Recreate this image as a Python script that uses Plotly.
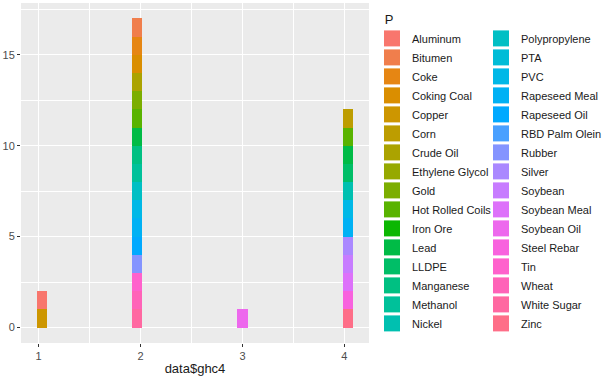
import math
import plotly.graph_objects as go

# ---------------- data ----------------
categories = ["Aluminum", "Bitumen", "Coke", "Coking Coal", "Copper", "Corn", "Crude Oil",
              "Ethylene Glycol", "Gold", "Hot Rolled Coils", "Iron Ore", "Lead", "LLDPE",
              "Manganese", "Methanol", "Nickel", "Polypropylene", "PTA", "PVC", "Rapeseed Meal",
              "Rapeseed Oil", "RBD Palm Olein", "Rubber", "Silver", "Soybean", "Soybean Meal",
              "Soybean Oil", "Steel Rebar", "Tin", "Wheat", "White Sugar", "Zinc"]

# observations: P category at each data$ghc4 value
ghc4_1 = ["Aluminum", "Copper"]
ghc4_2 = ["Bitumen", "Coke", "Coking Coal", "Crude Oil", "Gold", "Hot Rolled Coils", "Lead",
          "Manganese", "Methanol", "Polypropylene", "PVC", "Rapeseed Meal", "Rapeseed Oil",
          "Rubber", "Tin", "Wheat", "White Sugar"]
ghc4_3 = ["Soybean Oil"]
ghc4_4 = ["Corn", "Hot Rolled Coils", "Lead", "LLDPE", "Nickel", "PVC", "Rapeseed Meal",
          "Silver", "Soybean", "Soybean Meal", "Steel Rebar", "Zinc"]
ghc4_values = [1, 2, 3, 4]
x_ticks = [1, 2, 3, 4]
y_ticks = [0, 5, 10, 15]

groups = dict(zip(ghc4_values, [ghc4_1, ghc4_2, ghc4_3, ghc4_4]))

# ---------------- ggplot hue palette ----------------
def hcl_hex(h, c=100.0, l=65.0):
    hr = math.radians(h)
    U = c * math.cos(hr)
    V = c * math.sin(hr)
    Y = 100.0 * ((l + 16) / 116) ** 3
    un, vn = 0.1978398, 0.4683363
    u = U / (13 * l) + un
    v = V / (13 * l) + vn
    X = 9.0 * Y * u / (4 * v)
    Z = -X / 3 - 5 * Y + 3 * Y / v
    X, Y, Z = X / 100, Y / 100, Z / 100
    rgb = [3.240479 * X - 1.537150 * Y - 0.498535 * Z,
           -0.969256 * X + 1.875992 * Y + 0.041556 * Z,
           0.055648 * X - 0.204043 * Y + 1.057311 * Z]
    out = []
    for t in rgb:
        t = 1.055 * t ** (1 / 2.4) - 0.055 if t > 0.00304 else 12.92 * t
        t = min(max(t, 0), 1)
        out.append(round(t * 255))
    return "#%02X%02X%02X" % tuple(out)

n = len(categories)
colors = [hcl_hex(15 + 360 * i / n) for i in range(n)]
color_of = dict(zip(categories, colors))

# ggplot default binning (30 bins)
xmin, xmax = min(ghc4_values), max(ghc4_values)
width = (xmax - xmin) / 29
boundary = width / 2
shift = math.floor((xmin - boundary) / width)
origin = boundary + shift * width
end = origin + 30 * width

fig = go.Figure()
# stacked: first level on top -> add in reverse
for cat in reversed(categories):
    xs = [v for v in ghc4_values for c in groups[v] if c == cat]
    if not xs:
        continue
    fig.add_trace(go.Histogram(
        x=xs, xbins=dict(start=origin, end=end, size=width), autobinx=False,
        marker=dict(color=color_of[cat], line=dict(width=0)),
        showlegend=False, legendgroup=cat, name=cat))

# legend entries (two columns)
for i, cat in enumerate(categories):
    fig.add_trace(go.Scatter(
        x=[None], y=[None], mode="markers", name=cat, legendgroup=cat,
        marker=dict(symbol="square", size=16, color=color_of[cat], line=dict(width=0)),
        legend="legend" if i < 16 else "legend2", showlegend=True))

xr = [origin - 0.05 * (end - origin), end + 0.05 * (end - origin)]
ymax = 17
yr = [-0.05 * ymax, ymax * 1.05]

fig.update_layout(
    width=602, height=376,
    margin=dict(l=15, r=233, t=3, b=31),
    paper_bgcolor="white", plot_bgcolor="#EBEBEB",
    barmode="stack", bargap=0,
    font=dict(family="Liberation Sans, Arial", size=11, color="#1A1A1A"),
    xaxis=dict(range=xr, tickvals=x_ticks, ticks="outside", ticklen=3, tickcolor="#333333",
               tickfont=dict(color="#4D4D4D", size=11),
               showgrid=True, gridcolor="white", gridwidth=1.1, zeroline=False,
               minor=dict(tickvals=[1.5, 2.5, 3.5], showgrid=True, gridcolor="white",
                          gridwidth=0.55, ticks=""),
               title=dict(text="data$ghc4", font=dict(size=13, color="#1A1A1A"), standoff=2)),
    yaxis=dict(range=yr, tickvals=y_ticks, ticks="outside", ticklen=3, tickcolor="#333333",
               tickfont=dict(color="#4D4D4D", size=11),
               showgrid=True, gridcolor="white", gridwidth=1.1, zeroline=False,
               minor=dict(tickvals=[2.5, 7.5, 12.5, 17.5], showgrid=True, gridcolor="white",
                          gridwidth=0.55, ticks="")),
    legend=dict(xref="container", yref="container", x=372 / 602, y=1 - 7 / 376,
                xanchor="left", yanchor="top", bgcolor="rgba(0,0,0,0)", maxheight=370,
                title=dict(text="\u00a0\u00a0\u00a0P", font=dict(size=13, color="#1A1A1A")),
                font=dict(size=11, color="#1A1A1A"), tracegroupgap=0),
    legend2=dict(xref="container", yref="container", x=481 / 602, y=1 - 7 / 376,
                 xanchor="left", yanchor="top", bgcolor="rgba(0,0,0,0)", maxheight=370,
                 title=dict(text="\u00a0\u00a0\u00a0P", font=dict(size=13, color="rgba(0,0,0,0)")),
                 font=dict(size=11, color="#1A1A1A"), tracegroupgap=0),
)

fig.write_html("out.html")
